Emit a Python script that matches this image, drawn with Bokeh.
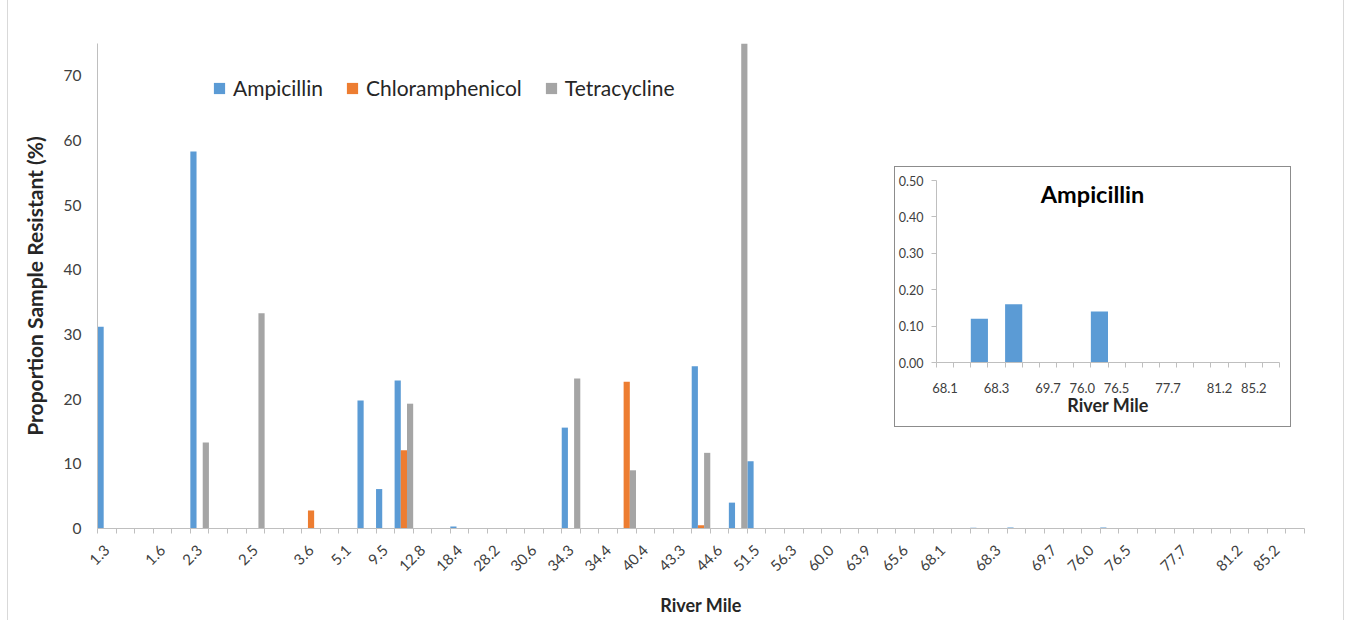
from math import pi
from bokeh.plotting import figure
from bokeh.models import (ColumnDataSource, FixedTicker, Legend, LegendItem, Label,
                          Range1d, NumeralTickFormatter)
from bokeh.embed import file_html
from bokeh.resources import INLINE
from bokeh.transform import dodge

# ---------------- data ----------------
river_mile = ["1.3", "", "", "1.6", "", "2.3", "", "", "2.5", "",
              "", "3.6", "", "5.1", "", "9.5", "", "12.8", "", "18.4",
              "", "28.2", "", "30.6", "", "34.3", "", "34.4", "", "40.4",
              "", "43.3", "", "44.6", "", "51.5", "", "56.3", "", "60.0",
              "", "63.9", "", "65.6", "", "68.1", "", "", "68.3", "",
              "", "69.7", "", "76.0", "", "76.5", "", "", "77.7", "",
              "", "81.2", "", "85.2", ""]

ampicillin = [31.2, 0, 0, 0, 0, 58.3, 0, 0, 0, 0,
              0, 0, 0, 0, 19.8, 6.1, 22.9, 0, 0, 0.3,
              0, 0, 0, 0, 0, 15.6, 0, 0, 0, 0,
              0, 0, 25.1, 0, 4.0, 10.4, 0, 0, 0, 0,
              0, 0, 0, 0, 0, 0, 0, 0.12, 0, 0.16,
              0, 0, 0, 0, 0.14, 0, 0, 0, 0, 0,
              0, 0, 0, 0, 0]

chloramphenicol = [0, 0, 0, 0, 0, 0, 0, 0, 0, 0,
                   0, 2.8, 0, 0, 0, 0, 12.1, 0, 0, 0,
                   0, 0, 0, 0, 0, 0, 0, 0, 22.7, 0,
                   0, 0, 0.5, 0, 0, 0, 0, 0, 0, 0,
                   0, 0, 0, 0, 0, 0, 0, 0, 0, 0,
                   0, 0, 0, 0, 0, 0, 0, 0, 0, 0,
                   0, 0, 0, 0, 0]

tetracycline = [0, 0, 0, 0, 0, 13.3, 0, 0, 33.3, 0,
                0, 0, 0, 0, 0, 0, 19.3, 0, 0, 0,
                0, 0, 0, 0, 0, 23.2, 0, 0, 9.0, 0,
                0, 0, 11.7, 0, 75.0, 0, 0, 0, 0, 0,
                0, 0, 0, 0, 0, 0, 0, 0, 0, 0,
                0, 0, 0, 0, 0, 0, 0, 0, 0, 0,
                0, 0, 0, 0, 0]

y_ticks = [0, 10, 20, 30, 40, 50, 60, 70]
inset_start = river_mile.index("68.1")
inset_y_ticks = [0.0, 0.1, 0.2, 0.3, 0.4, 0.5]

# ---------------- styles ----------------
FONT = "Lato"
BLUE, ORANGE, GREY = "#5B9BD5", "#ED7D31", "#A5A5A5"
AXIS = "#BFBFBF"
TXT = "#404040"
TITLE = "#262626"

n = len(river_mile)
src = ColumnDataSource(dict(idx=list(range(n)), amp=ampicillin,
                            chl=chloramphenicol, tet=tetracycline))

p = figure(frame_width=1207, frame_height=485, output_backend="svg", toolbar_location=None,
           x_range=Range1d(-0.5, n - 0.5), y_range=Range1d(0, 75),
           min_border_left=89, min_border_right=39, min_border_top=43, min_border_bottom=92)
p.outline_line_color = None
p.xgrid.visible = False
p.ygrid.visible = False
p.background_fill_color = "white"
p.border_fill_color = "white"
p.margin = (0, 0, 0, 7)
p.styles = {"border-left": "1px solid #D9D9D9", "border-right": "1px solid #D9D9D9"}

w = 1 / 3
r_amp = p.vbar(x=dodge("idx", -w, range=p.x_range), top="amp", width=w, source=src,
               fill_color=BLUE, line_color=None)
r_chl = p.vbar(x=dodge("idx", 0, range=p.x_range), top="chl", width=w, source=src,
               fill_color=ORANGE, line_color=None)
r_tet = p.vbar(x=dodge("idx", w, range=p.x_range), top="tet", width=w, source=src,
               fill_color=GREY, line_color=None)

labeled = [i for i, s in enumerate(river_mile) if s]
xa = p.xaxis[0]
xa.ticker = FixedTicker(ticks=labeled, minor_ticks=[i - 0.5 for i in range(n + 1)])
xa.major_label_overrides = {i: river_mile[i] for i in labeled}
xa.major_tick_out = 0
xa.major_tick_in = 0
xa.minor_tick_out = 5
xa.minor_tick_in = 0
xa.minor_tick_line_color = AXIS
xa.axis_line_color = AXIS
xa.major_label_orientation = pi / 4
xa.major_label_standoff = 14
xa.major_label_text_font = FONT
xa.major_label_text_font_size = "15px"
xa.major_label_text_color = TXT
xa.axis_label = "River Mile"
xa.axis_label_text_font = FONT
xa.axis_label_text_font_style = "bold"
xa.axis_label_text_font_size = "18px"
xa.axis_label_text_color = TITLE
xa.axis_label_standoff = 15

ya = p.yaxis[0]
ya.ticker = FixedTicker(ticks=y_ticks)
ya.major_tick_out = 0
ya.major_tick_in = 0
ya.minor_tick_out = 0
ya.minor_tick_in = 0
ya.axis_line_color = AXIS
ya.major_label_standoff = 16
ya.major_label_text_font = FONT
ya.major_label_text_font_size = "15.5px"
ya.major_label_text_color = TXT
ya.axis_label = "Proportion Sample Resistant (%)"
ya.axis_label_text_font = FONT
ya.axis_label_text_font_style = "bold"
ya.axis_label_text_font_size = "21px"
ya.axis_label_text_color = TITLE
ya.axis_label_standoff = 14

legend = Legend(items=[LegendItem(label="Ampicillin", renderers=[r_amp]),
                       LegendItem(label="Chloramphenicol", renderers=[r_chl]),
                       LegendItem(label="Tetracycline", renderers=[r_tet])],
                orientation="horizontal", location=(115, 428),
                label_text_font=FONT, label_text_font_size="21px", label_text_color=TITLE,
                glyph_width=14, glyph_height=14, spacing=22, label_standoff=7,
                padding=0, margin=0, border_line_color=None, background_fill_alpha=0)
p.add_layout(legend)

# ---------------- inset ----------------
m = n - inset_start
isrc = ColumnDataSource(dict(idx=list(range(m)), amp=ampicillin[inset_start:]))
ins = figure(frame_width=343, frame_height=182, output_backend="svg", toolbar_location=None,
             x_range=Range1d(-0.5, m - 0.5), y_range=Range1d(0, 0.5),
             min_border_left=40, min_border_right=11, min_border_top=13, min_border_bottom=64)
ins.outline_line_color = None
ins.xgrid.visible = False
ins.ygrid.visible = False
ins.background_fill_color = "white"
ins.border_fill_color = "white"
ins.vbar(x="idx", top="amp", width=1.0, source=isrc, fill_color=BLUE, line_color=None)

ilab = [i for i, s in enumerate(river_mile[inset_start:]) if s]
ix = ins.xaxis[0]
ix.ticker = FixedTicker(ticks=ilab, minor_ticks=[i - 0.5 for i in range(m + 1)])
ix.major_label_overrides = {i: river_mile[inset_start + i] for i in ilab}
ix.major_tick_out = 0
ix.major_tick_in = 0
ix.minor_tick_out = 5
ix.minor_tick_in = 0
ix.minor_tick_line_color = AXIS
ix.axis_line_color = AXIS
ix.major_label_standoff = 15
ix.major_label_text_font = FONT
ix.major_label_text_font_size = "13px"
ix.major_label_text_color = TXT
ix.axis_label = "River Mile"
ix.axis_label_text_font = FONT
ix.axis_label_text_font_style = "bold"
ix.axis_label_text_font_size = "18px"
ix.axis_label_text_color = TITLE
ix.axis_label_standoff = -2

iy = ins.yaxis[0]
iy.ticker = FixedTicker(ticks=inset_y_ticks)
iy.formatter = NumeralTickFormatter(format="0.00")
iy.major_tick_out = 5
iy.major_tick_in = 0
iy.minor_tick_out = 0
iy.minor_tick_in = 0
iy.major_tick_line_color = AXIS
iy.axis_line_color = AXIS
iy.major_label_standoff = 8
iy.major_label_text_font = FONT
iy.major_label_text_font_size = "12.5px"
iy.major_label_text_color = TXT

ins.add_layout(Label(x=8.6, y=0.464, text="Ampicillin", text_align="center",
                     text_baseline="middle", text_font=FONT, text_font_style="bold",
                     text_font_size="23.5px", text_color="black"))

# the inset sits over the main chart as its own root (no frame alignment with it)
ins.styles = {"position": "absolute", "left": "894px", "top": "166px",
              "border": "1px solid #8C8C8C"}

roots = [p, ins]
open("out.html", "w").write(file_html(roots, INLINE))
